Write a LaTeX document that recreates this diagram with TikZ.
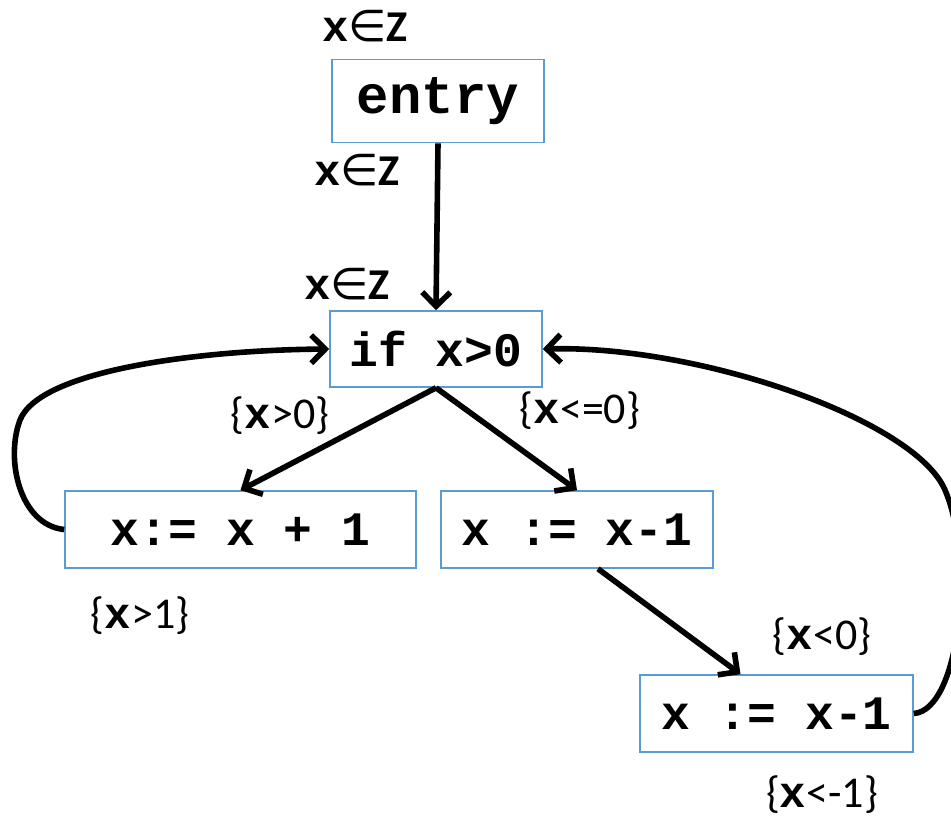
\documentclass[tikz,border=0pt]{standalone}
\usepackage{fontspec}
\setmainfont{Carlito}
\newfontfamily\codefont{Liberation Mono}
\newfontfamily\symfont{DejaVu Sans}
\usetikzlibrary{arrows.meta}

\definecolor{boxblue}{RGB}{91,155,213}

\tikzset{
  block/.style={draw=boxblue, line width=0.8pt, minimum height=38.5pt, inner sep=0pt,
    font=\codefont\bfseries\fontsize{24}{28}\selectfont},
  flow/.style={line width=2.8pt, -{Straight Barb[length=7pt,width=14pt]}},
  fact/.style={inner sep=0pt, font=\fontsize{22}{26}\selectfont},
}

\newcommand{\cx}{{\codefont\bfseries x}}
\newcommand{\inZ}{\cx{\symfont ∈}\textbf{Z}}

\begin{document}
\begin{tikzpicture}[x=0.5pt, y=-0.5pt]
\useasboundingbox (0,0) rectangle (951,816);

% Blocks
\node[block, minimum width=106pt, minimum height=41.5pt,
  font=\codefont\bfseries\fontsize{27}{31}\selectfont] (entry) at (438,101) {entry};
\node[block, minimum width=106pt, minimum height=38pt] (cond) at (436,349) {if x>0};
\node[block, minimum width=175.5pt] (inc) at (240.5,529.5) {x:= x + 1};
\node[block, minimum width=136pt] (dec) at (577,529.5) {x := x-1};
\node[block, minimum width=136.5pt] (decb) at (776.5,713.5) {x := x-1};

% Facts
\node[fact] (inEntry) at (365,26) {\inZ};
\node[fact] (outEntry) at (357,170) {\inZ};
\node[fact] (inCond) at (347,284) {\inZ};
\node[fact] (condT) at (280,416) {\{\cx>0\}};
\node[fact] (condF) at (580,411) {\{\cx<=0\}};
\node[fact] (outInc) at (140,616) {\{\cx>1\}};
\node[fact] (outDec) at (822,637) {\{\cx<0\}};
\node[fact] (outDecb) at (822,795) {\{\cx<-1\}};

% Edges
\draw[flow] (entry.south) -- (cond.north);
\draw[flow] (cond.south) -- (inc.north);
\draw[flow] (cond.south) -- (dec.north);
\draw[flow] ([xshift=10.5pt]dec.south) -- ([xshift=-18pt]decb.north);

% Back edges
\draw[flow] (inc.west) .. controls (20,525) and (5,460) .. (20,420)
  .. controls (40,370) and (200,350) .. (cond.west);
\draw[flow] (decb.east) .. controls (960,710) and (975,560) .. (945,490)
  .. controls (915,420) and (700,345) .. (cond.east);
\end{tikzpicture}
\end{document}
